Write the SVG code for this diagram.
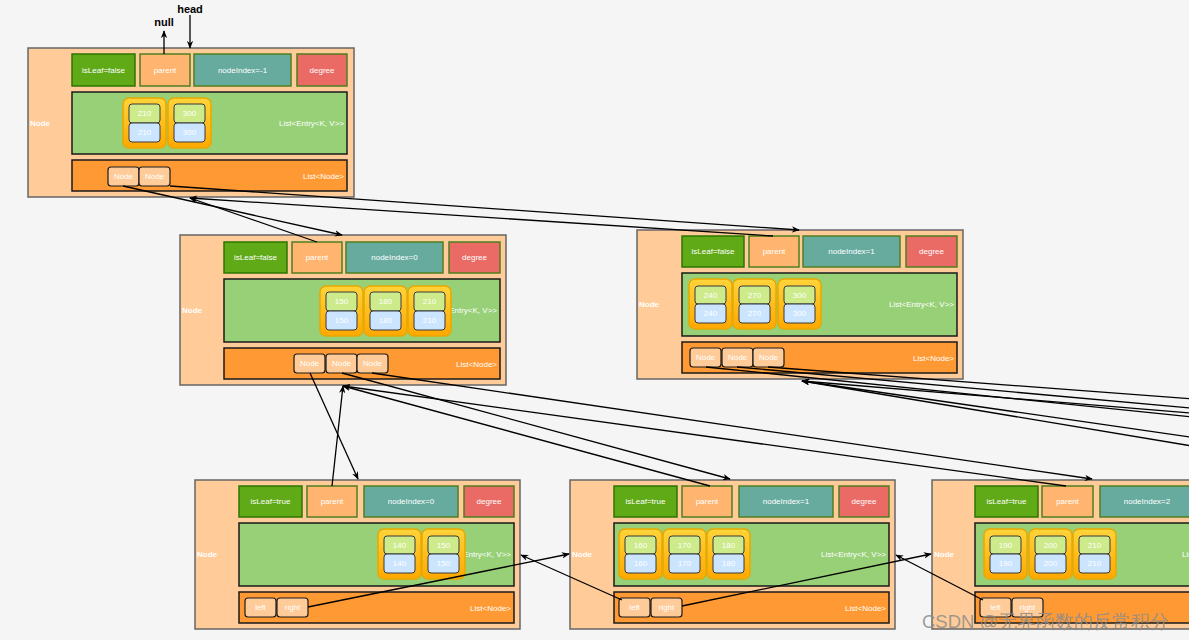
<svg xmlns="http://www.w3.org/2000/svg" width="1189" height="640" viewBox="0 0 1189 640">
<style>
.o{fill:#ffcc99;stroke:#666;stroke-width:1.5}
.lf{fill:#60a917;stroke:#2d7600;stroke-width:1.5}
.pa{fill:#ffb570;stroke:#4f7f1f;stroke-width:1.5}
.ni{fill:#67ab9f;stroke:#4f7f1f;stroke-width:1.5}
.dg{fill:#ea6b66;stroke:#4f7f1f;stroke-width:1.5}
.el{fill:#97d077;stroke:#1a1a1a;stroke-width:1.5}
.nl{fill:#ff9933;stroke:#1a1a1a;stroke-width:1.5}
.pr{fill:url(#pg);stroke:#e8a800;stroke-width:1.5}
.k{fill:#cdeb8b;stroke:#36393d;stroke-width:1}
.v{fill:#cce5ff;stroke:#36393d;stroke-width:1}
.c{fill:#ffcc99;stroke:#1a1a1a;stroke-width:1.2}
text{font-family:"Liberation Sans",Arial,sans-serif}
.t{font-size:8px;fill:#fff;text-anchor:middle;dominant-baseline:central}
.tr{font-size:8px;fill:#fff;text-anchor:end;dominant-baseline:central}
.tn{font-size:8px;fill:#fff;font-weight:bold;dominant-baseline:central}
.hb{font-size:11px;fill:#000;font-weight:bold;text-anchor:middle}
.e{fill:none;stroke:#000;stroke-width:1.3}
</style>
<defs>
<linearGradient id="pg" x1="0" y1="0" x2="0" y2="1"><stop offset="0" stop-color="#ffd43a"/><stop offset="1" stop-color="#ffa800"/></linearGradient>
<marker id="a" viewBox="0 0 10 8" refX="9" refY="4" markerWidth="8" markerHeight="6.4" markerUnits="userSpaceOnUse" orient="auto"><path d="M0,0 L10,4 L0,8 L3,4 z" fill="#000"/></marker>
</defs>
<rect width="1189" height="640" fill="#f5f5f5"/>

<text class="hb" x="190" y="13">head</text>
<text class="hb" x="164" y="26">null</text>

<g id="node-root" transform="translate(28,48)">
<rect class="o" width="326" height="149"/>
<text class="tn" x="2" y="75">Node</text>
<rect class="lf" x="44" y="6" width="63" height="32"/><text class="t" x="75.5" y="22">isLeaf=false</text>
<rect class="pa" x="112" y="6" width="50" height="32"/><text class="t" x="137" y="22">parent</text>
<rect class="ni" x="166" y="6" width="97" height="32"/><text class="t" x="214.5" y="22">nodeIndex=-1</text>
<rect class="dg" x="269" y="6" width="50" height="32"/><text class="t" x="294" y="22">degree</text>
<rect class="el" x="44" y="44" width="275" height="62"/><text class="tr" x="316" y="75">List&lt;Entry&lt;K, V&gt;&gt;</text>
<rect class="pr" x="95" y="50" width="43" height="50" rx="6"/><rect class="k" x="101" y="56" width="31" height="19" rx="3"/><rect class="v" x="101" y="75" width="31" height="19" rx="3"/><text class="t" x="116.5" y="65.5">210</text><text class="t" x="116.5" y="84.5">210</text>
<rect class="pr" x="140" y="50" width="43" height="50" rx="6"/><rect class="k" x="146" y="56" width="31" height="19" rx="3"/><rect class="v" x="146" y="75" width="31" height="19" rx="3"/><text class="t" x="161.5" y="65.5">300</text><text class="t" x="161.5" y="84.5">300</text>
<rect class="nl" x="44" y="112" width="275" height="31"/><text class="tr" x="316" y="128">List&lt;Node&gt;</text>
<rect class="c" x="80" y="119" width="31" height="19" rx="3"/><text class="t" x="95.5" y="128.5">Node</text>
<rect class="c" x="111" y="119" width="31" height="19" rx="3"/><text class="t" x="126.5" y="128.5">Node</text>
</g>

<g id="node-a" transform="translate(180,235)">
<rect class="o" width="326" height="150"/>
<text class="tn" x="2" y="75">Node</text>
<rect class="lf" x="44" y="7" width="63" height="31"/><text class="t" x="75.5" y="22.5">isLeaf=false</text>
<rect class="pa" x="112" y="7" width="50" height="31"/><text class="t" x="137" y="22.5">parent</text>
<rect class="ni" x="166" y="7" width="97" height="31"/><text class="t" x="214.5" y="22.5">nodeIndex=0</text>
<rect class="dg" x="269" y="7" width="51" height="31"/><text class="t" x="294.5" y="22.5">degree</text>
<rect class="el" x="44" y="44" width="276" height="63"/><text class="tr" x="317" y="75">List&lt;Entry&lt;K, V&gt;&gt;</text>
<rect class="pr" x="140" y="51" width="43" height="50" rx="6"/><rect class="k" x="146" y="57" width="31" height="19" rx="3"/><rect class="v" x="146" y="76" width="31" height="19" rx="3"/><text class="t" x="161.5" y="66.5">150</text><text class="t" x="161.5" y="85.5">150</text>
<rect class="pr" x="184" y="51" width="43" height="50" rx="6"/><rect class="k" x="190" y="57" width="31" height="19" rx="3"/><rect class="v" x="190" y="76" width="31" height="19" rx="3"/><text class="t" x="205.5" y="66.5">180</text><text class="t" x="205.5" y="85.5">180</text>
<rect class="pr" x="228" y="51" width="43" height="50" rx="6"/><rect class="k" x="234" y="57" width="31" height="19" rx="3"/><rect class="v" x="234" y="76" width="31" height="19" rx="3"/><text class="t" x="249.5" y="66.5">210</text><text class="t" x="249.5" y="85.5">210</text>
<rect class="nl" x="44" y="113" width="276" height="31"/><text class="tr" x="317" y="129">List&lt;Node&gt;</text>
<rect class="c" x="114" y="119" width="31" height="19" rx="3"/><text class="t" x="129.5" y="128.5">Node</text>
<rect class="c" x="146" y="119" width="31" height="19" rx="3"/><text class="t" x="161.5" y="128.5">Node</text>
<rect class="c" x="177" y="119" width="31" height="19" rx="3"/><text class="t" x="192.5" y="128.5">Node</text>
</g>

<g id="node-b" transform="translate(637,230)">
<rect class="o" width="326" height="149"/>
<text class="tn" x="2" y="74">Node</text>
<rect class="lf" x="45" y="6" width="62" height="31"/><text class="t" x="76" y="21.5">isLeaf=false</text>
<rect class="pa" x="112" y="6" width="50" height="31"/><text class="t" x="137" y="21.5">parent</text>
<rect class="ni" x="166" y="6" width="97" height="31"/><text class="t" x="214.5" y="21.5">nodeIndex=1</text>
<rect class="dg" x="269" y="6" width="51" height="31"/><text class="t" x="294.5" y="21.5">degree</text>
<rect class="el" x="45" y="43" width="275" height="63"/><text class="tr" x="317" y="74">List&lt;Entry&lt;K, V&gt;&gt;</text>
<rect class="pr" x="52" y="49" width="43" height="50" rx="6"/><rect class="k" x="58" y="56" width="31" height="18" rx="3"/><rect class="v" x="58" y="74" width="31" height="19" rx="3"/><text class="t" x="73.5" y="65">240</text><text class="t" x="73.5" y="83.5">240</text>
<rect class="pr" x="96" y="49" width="43" height="50" rx="6"/><rect class="k" x="102" y="56" width="31" height="18" rx="3"/><rect class="v" x="102" y="74" width="31" height="19" rx="3"/><text class="t" x="117.5" y="65">270</text><text class="t" x="117.5" y="83.5">270</text>
<rect class="pr" x="141" y="49" width="43" height="50" rx="6"/><rect class="k" x="147" y="56" width="31" height="18" rx="3"/><rect class="v" x="147" y="74" width="31" height="19" rx="3"/><text class="t" x="162.5" y="65">300</text><text class="t" x="162.5" y="83.5">300</text>
<rect class="nl" x="45" y="112" width="275" height="31"/><text class="tr" x="317" y="128">List&lt;Node&gt;</text>
<rect class="c" x="53" y="118" width="31" height="19" rx="3"/><text class="t" x="68.5" y="127.5">Node</text>
<rect class="c" x="85" y="118" width="31" height="19" rx="3"/><text class="t" x="100.5" y="127.5">Node</text>
<rect class="c" x="116" y="118" width="31" height="19" rx="3"/><text class="t" x="131.5" y="127.5">Node</text>
</g>

<g id="node-c" transform="translate(195,480)">
<rect class="o" width="325" height="149"/>
<text class="tn" x="2" y="74">Node</text>
<rect class="lf" x="44" y="6" width="63" height="31"/><text class="t" x="75.5" y="21.5">isLeaf=true</text>
<rect class="pa" x="112" y="6" width="50" height="31"/><text class="t" x="137" y="21.5">parent</text>
<rect class="ni" x="169" y="6" width="94" height="31"/><text class="t" x="216" y="21.5">nodeIndex=0</text>
<rect class="dg" x="269" y="6" width="50" height="31"/><text class="t" x="294" y="21.5">degree</text>
<rect class="el" x="44" y="43" width="275" height="63"/><text class="tr" x="316" y="74">List&lt;Entry&lt;K, V&gt;&gt;</text>
<rect class="pr" x="183" y="49" width="43" height="50" rx="6"/><rect class="k" x="189" y="56" width="31" height="18" rx="3"/><rect class="v" x="189" y="74" width="31" height="19" rx="3"/><text class="t" x="204.5" y="65">140</text><text class="t" x="204.5" y="83.5">140</text>
<rect class="pr" x="227" y="49" width="43" height="50" rx="6"/><rect class="k" x="233" y="56" width="31" height="18" rx="3"/><rect class="v" x="233" y="74" width="31" height="19" rx="3"/><text class="t" x="248.5" y="65">150</text><text class="t" x="248.5" y="83.5">150</text>
<rect class="nl" x="44" y="112" width="275" height="31"/><text class="tr" x="316" y="128">List&lt;Node&gt;</text>
<rect class="c" x="50" y="118" width="31" height="19" rx="3"/><text class="t" x="65.5" y="127.5">left</text>
<rect class="c" x="82" y="118" width="31" height="19" rx="3"/><text class="t" x="97.5" y="127.5">right</text>
</g>

<g id="node-d" transform="translate(570,480)">
<rect class="o" width="325" height="149"/>
<text class="tn" x="2" y="74">Node</text>
<rect class="lf" x="44" y="6" width="63" height="31"/><text class="t" x="75.5" y="21.5">isLeaf=true</text>
<rect class="pa" x="112" y="6" width="50" height="31"/><text class="t" x="137" y="21.5">parent</text>
<rect class="ni" x="169" y="6" width="94" height="31"/><text class="t" x="216" y="21.5">nodeIndex=1</text>
<rect class="dg" x="269" y="6" width="50" height="31"/><text class="t" x="294" y="21.5">degree</text>
<rect class="el" x="44" y="43" width="275" height="63"/><text class="tr" x="316" y="74">List&lt;Entry&lt;K, V&gt;&gt;</text>
<rect class="pr" x="49" y="49" width="43" height="50" rx="6"/><rect class="k" x="55" y="56" width="31" height="18" rx="3"/><rect class="v" x="55" y="74" width="31" height="19" rx="3"/><text class="t" x="70.5" y="65">160</text><text class="t" x="70.5" y="83.5">160</text>
<rect class="pr" x="93" y="49" width="43" height="50" rx="6"/><rect class="k" x="99" y="56" width="31" height="18" rx="3"/><rect class="v" x="99" y="74" width="31" height="19" rx="3"/><text class="t" x="114.5" y="65">170</text><text class="t" x="114.5" y="83.5">170</text>
<rect class="pr" x="137" y="49" width="43" height="50" rx="6"/><rect class="k" x="143" y="56" width="31" height="18" rx="3"/><rect class="v" x="143" y="74" width="31" height="19" rx="3"/><text class="t" x="158.5" y="65">180</text><text class="t" x="158.5" y="83.5">180</text>
<rect class="nl" x="44" y="112" width="275" height="31"/><text class="tr" x="316" y="128">List&lt;Node&gt;</text>
<rect class="c" x="49" y="118" width="31" height="19" rx="3"/><text class="t" x="64.5" y="127.5">left</text>
<rect class="c" x="81" y="118" width="31" height="19" rx="3"/><text class="t" x="96.5" y="127.5">right</text>
</g>

<g id="node-e" transform="translate(932,480)">
<rect class="o" width="325" height="149"/>
<text class="tn" x="2" y="74">Node</text>
<rect class="lf" x="43" y="6" width="63" height="31"/><text class="t" x="74.5" y="21.5">isLeaf=true</text>
<rect class="pa" x="110" y="6" width="51" height="31"/><text class="t" x="135.5" y="21.5">parent</text>
<rect class="ni" x="168" y="6" width="94" height="31"/><text class="t" x="215" y="21.5">nodeIndex=2</text>
<rect class="dg" x="268" y="6" width="50" height="31"/><text class="t" x="293" y="21.5">degree</text>
<rect class="el" x="43" y="43" width="275" height="63"/><text class="tr" x="315" y="74">List&lt;Entry&lt;K, V&gt;&gt;</text>
<rect class="pr" x="52" y="49" width="43" height="50" rx="6"/><rect class="k" x="58" y="56" width="31" height="18" rx="3"/><rect class="v" x="58" y="74" width="31" height="19" rx="3"/><text class="t" x="73.5" y="65">190</text><text class="t" x="73.5" y="83.5">190</text>
<rect class="pr" x="97" y="49" width="43" height="50" rx="6"/><rect class="k" x="103" y="56" width="31" height="18" rx="3"/><rect class="v" x="103" y="74" width="31" height="19" rx="3"/><text class="t" x="118.5" y="65">200</text><text class="t" x="118.5" y="83.5">200</text>
<rect class="pr" x="141" y="49" width="43" height="50" rx="6"/><rect class="k" x="147" y="56" width="31" height="18" rx="3"/><rect class="v" x="147" y="74" width="31" height="19" rx="3"/><text class="t" x="162.5" y="65">210</text><text class="t" x="162.5" y="83.5">210</text>
<rect class="nl" x="43" y="112" width="275" height="31"/><text class="tr" x="315" y="128">List&lt;Node&gt;</text>
<rect class="c" x="48" y="118" width="31" height="19" rx="3"/><text class="t" x="63.5" y="127.5">left</text>
<rect class="c" x="80" y="118" width="31" height="19" rx="3"/><text class="t" x="95.5" y="127.5">right</text>
</g>

<g id="connectors">
<path class="e" d="M190,15 L190,48" marker-end="url(#a)"/>
<path class="e" d="M164,54 L164,31" marker-end="url(#a)"/>
<path class="e" d="M123,186 L342,235" marker-end="url(#a)"/>
<path class="e" d="M317,242 L190,198" marker-end="url(#a)"/>
<path class="e" d="M170,186 L799,230" marker-end="url(#a)"/>
<path class="e" d="M773,236 L190,198" marker-end="url(#a)"/>
<path class="e" d="M310,373 L358,479" marker-end="url(#a)"/>
<path class="e" d="M332,486 L343,386" marker-end="url(#a)"/>
<path class="e" d="M342,373 L730,479" marker-end="url(#a)"/>
<path class="e" d="M710,486 L343,386" marker-end="url(#a)"/>
<path class="e" d="M372,373 L1092,479" marker-end="url(#a)"/>
<path class="e" d="M1066,486 L343,386" marker-end="url(#a)"/>
<path class="e" d="M706,367 L1300,428"/>
<path class="e" d="M737,367 L1300,418"/>
<path class="e" d="M768,367 L1300,407"/>
<path class="e" d="M1300,464 L802,381" marker-end="url(#a)"/>
<path class="e" d="M1300,453 L802,381" marker-end="url(#a)"/>
<path class="e" d="M1300,422 L802,381" marker-end="url(#a)"/>
<path class="e" d="M308,607 L569,554" marker-end="url(#a)"/>
<path class="e" d="M622,600 L521,555" marker-end="url(#a)"/>
<path class="e" d="M682,606 L931,554" marker-end="url(#a)"/>
<path class="e" d="M983,600 L896,555" marker-end="url(#a)"/>
</g>

<text x="922" y="628" font-size="18.5" fill="#8c8c8c" fill-opacity="0.85" font-family="'Liberation Sans','Noto Sans CJK SC',sans-serif">CSDN @无界函数的反常积分</text>
</svg>
